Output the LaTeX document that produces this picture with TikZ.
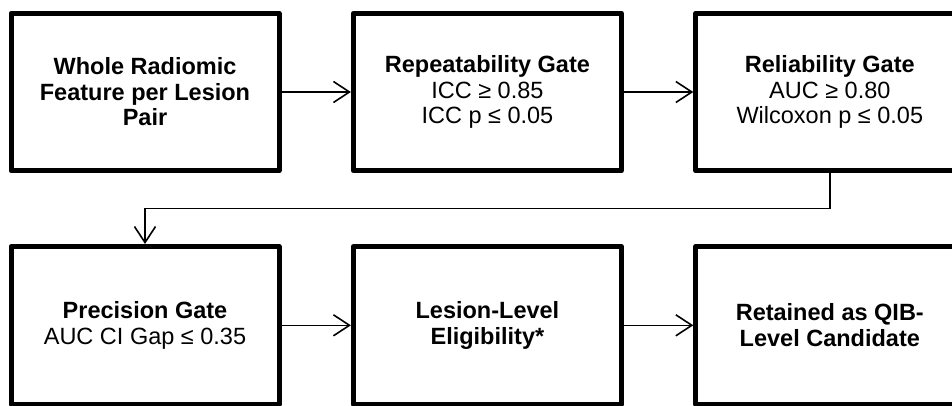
\documentclass[tikz,border=0pt]{standalone}
\usepackage{fontspec}
\setmainfont{Liberation Sans}
\usetikzlibrary{arrows.meta}
\begin{document}
\begin{tikzpicture}[x=1pt,y=-1pt,
  stagebox/.style={draw=black, line width=5pt, line join=round, rectangle,
    minimum width=268pt, minimum height=157.6pt, inner sep=0pt, align=center,
    font=\fontsize{23.5}{25.5}\selectfont},
  conn/.style={line width=1.6pt, -{Straight Barb[length=16pt,width=21pt,line width=1.6pt]}}]
\useasboundingbox (0,0) rectangle (952,405);
\clip (0,0) rectangle (952,405);
\node[stagebox] (b1) at (145,92) {\textbf{Whole Radiomic}\\\textbf{Feature per Lesion}\\\textbf{Pair}};
\node[stagebox] (b2) at (487.4,92) {\textbf{Repeatability Gate}\\ICC ≥ 0.85\\ICC p ≤ 0.05};
\node[stagebox] (b3) at (829.8,92) {\textbf{Reliability Gate}\\AUC ≥ 0.80\\Wilcoxon p ≤ 0.05};
\node[stagebox] (b4) at (145,325.3) {\textbf{Precision Gate}\\AUC CI Gap ≤ 0.35};
\node[stagebox] (b5) at (487.4,325.3) {\textbf{Lesion-Level}\\\textbf{Eligibility*}};
\node[stagebox] (b6) at (829.8,325.3) {\textbf{Retained as QIB-}\\\textbf{Level Candidate}};
\draw[conn] (b1) -- (b2);
\draw[conn] (b2) -- (b3);
\draw[conn] (b3.south) -- ++(0,35) -| (b4.north);
\draw[conn] (b4) -- (b5);
\draw[conn] (b5) -- (b6);
\end{tikzpicture}
\end{document}
